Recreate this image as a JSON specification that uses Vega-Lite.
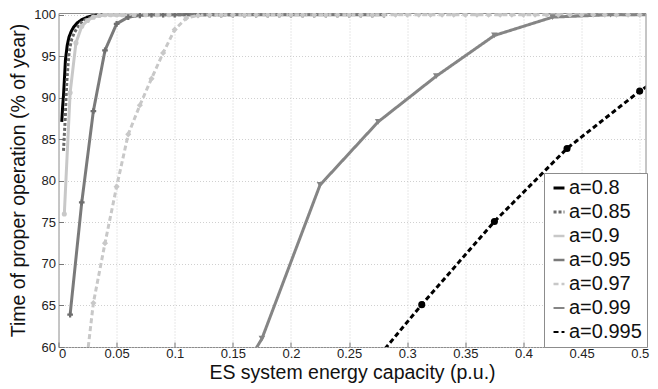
{
  "$schema": "https://vega.github.io/schema/vega-lite/v6.json",
  "width": 587,
  "height": 334,
  "autosize": {"type": "none"},
  "padding": {"left": 58.5, "top": 13, "right": 12.5, "bottom": 42},
  "background": "white",
  "config": {
    "font": "Liberation Sans",
    "view": {"stroke": "#8c8c8c", "strokeWidth": 1},
    "axis": {
      "labelFont": "Liberation Sans",
      "labelFontSize": 13,
      "labelColor": "#222222",
      "titleFont": "Liberation Sans",
      "titleFontSize": 19.5,
      "titleFontWeight": "normal",
      "titleColor": "#111111",
      "domain": false,
      "tickColor": "#777777",
      "tickSize": -5,
      "grid": true,
      "gridColor": "#c4c4c4",
      "gridDash": [1, 2],
      "gridWidth": 0.8
    },
    "legend": {
      "orient": "none",
      "legendX": 485.5,
      "legendY": 160,
      "padding": 5,
      "strokeColor": "#8c8c8c",
      "fillColor": "white",
      "labelFont": "Liberation Sans",
      "labelFontSize": 20,
      "labelColor": "#111111",
      "rowPadding": 4,
      "symbolType": "stroke",
      "symbolSize": 120,
      "symbolStrokeWidth": 2.2,
      "labelOffset": 0,
      "title": null
    }
  },
  "data": {
    "values": [
      {"s": "a=0.8", "x": 0.0028, "y": 87.1},
      {"s": "a=0.8", "x": 0.0035, "y": 88.8},
      {"s": "a=0.8", "x": 0.0043, "y": 90.3},
      {"s": "a=0.8", "x": 0.005, "y": 92.0},
      {"s": "a=0.8", "x": 0.006, "y": 94.6},
      {"s": "a=0.8", "x": 0.0075, "y": 96.3},
      {"s": "a=0.8", "x": 0.009, "y": 97.3},
      {"s": "a=0.8", "x": 0.011, "y": 98.0},
      {"s": "a=0.8", "x": 0.013, "y": 98.5},
      {"s": "a=0.8", "x": 0.016, "y": 99.0},
      {"s": "a=0.8", "x": 0.02, "y": 99.4},
      {"s": "a=0.8", "x": 0.025, "y": 99.7},
      {"s": "a=0.8", "x": 0.03, "y": 99.9},
      {"s": "a=0.8", "x": 0.038, "y": 100},

      {"s": "a=0.85", "x": 0.0043, "y": 83.6},
      {"s": "a=0.85", "x": 0.005, "y": 85.5},
      {"s": "a=0.85", "x": 0.0058, "y": 87.5},
      {"s": "a=0.85", "x": 0.0065, "y": 90.0},
      {"s": "a=0.85", "x": 0.0072, "y": 92.0},
      {"s": "a=0.85", "x": 0.0082, "y": 94.0},
      {"s": "a=0.85", "x": 0.0092, "y": 95.5},
      {"s": "a=0.85", "x": 0.0105, "y": 96.5},
      {"s": "a=0.85", "x": 0.0115, "y": 97.1},
      {"s": "a=0.85", "x": 0.0135, "y": 97.8},
      {"s": "a=0.85", "x": 0.016, "y": 98.4},
      {"s": "a=0.85", "x": 0.019, "y": 99.0},
      {"s": "a=0.85", "x": 0.023, "y": 99.4},
      {"s": "a=0.85", "x": 0.03, "y": 99.8},
      {"s": "a=0.85", "x": 0.04, "y": 100},
      {"s": "a=0.85", "x": 0.15, "y": 100},

      {"s": "a=0.9", "x": 0.005, "y": 76.0},
      {"s": "a=0.9", "x": 0.01, "y": 90.6},
      {"s": "a=0.9", "x": 0.015, "y": 96.6},
      {"s": "a=0.9", "x": 0.02, "y": 98.6},
      {"s": "a=0.9", "x": 0.025, "y": 99.3},
      {"s": "a=0.9", "x": 0.03, "y": 99.7},
      {"s": "a=0.9", "x": 0.035, "y": 99.9},
      {"s": "a=0.9", "x": 0.04, "y": 100},
      {"s": "a=0.9", "x": 0.045, "y": 100},
      {"s": "a=0.9", "x": 0.05, "y": 100},
      {"s": "a=0.9", "x": 0.055, "y": 100},
      {"s": "a=0.9", "x": 0.06, "y": 100},
      {"s": "a=0.9", "x": 0.065, "y": 100},
      {"s": "a=0.9", "x": 0.07, "y": 100},
      {"s": "a=0.9", "x": 0.075, "y": 100},
      {"s": "a=0.9", "x": 0.08, "y": 100},
      {"s": "a=0.9", "x": 0.085, "y": 100},
      {"s": "a=0.9", "x": 0.09, "y": 100},
      {"s": "a=0.9", "x": 0.095, "y": 100},
      {"s": "a=0.9", "x": 0.1, "y": 100},

      {"s": "a=0.95", "x": 0.01, "y": 63.9},
      {"s": "a=0.95", "x": 0.02, "y": 77.4},
      {"s": "a=0.95", "x": 0.03, "y": 88.4},
      {"s": "a=0.95", "x": 0.04, "y": 95.7},
      {"s": "a=0.95", "x": 0.05, "y": 98.9},
      {"s": "a=0.95", "x": 0.06, "y": 99.7},
      {"s": "a=0.95", "x": 0.07, "y": 99.9},
      {"s": "a=0.95", "x": 0.08, "y": 100},
      {"s": "a=0.95", "x": 0.09, "y": 100},
      {"s": "a=0.95", "x": 0.1, "y": 100},
      {"s": "a=0.95", "x": 0.11, "y": 100},
      {"s": "a=0.95", "x": 0.12, "y": 100},
      {"s": "a=0.95", "x": 0.13, "y": 100},
      {"s": "a=0.95", "x": 0.14, "y": 100},
      {"s": "a=0.95", "x": 0.15, "y": 100},
      {"s": "a=0.95", "x": 0.16, "y": 100},
      {"s": "a=0.95", "x": 0.17, "y": 100},
      {"s": "a=0.95", "x": 0.18, "y": 100},
      {"s": "a=0.95", "x": 0.19, "y": 100},
      {"s": "a=0.95", "x": 0.2, "y": 100},
      {"s": "a=0.95", "x": 0.21, "y": 100},
      {"s": "a=0.95", "x": 0.22, "y": 100},
      {"s": "a=0.95", "x": 0.23, "y": 100},
      {"s": "a=0.95", "x": 0.24, "y": 100},
      {"s": "a=0.95", "x": 0.25, "y": 100},
      {"s": "a=0.95", "x": 0.26, "y": 100},
      {"s": "a=0.95", "x": 0.27, "y": 100},
      {"s": "a=0.95", "x": 0.28, "y": 100},

      {"s": "a=0.97", "x": 0.02, "y": 53.3},
      {"s": "a=0.97", "x": 0.03, "y": 65.3},
      {"s": "a=0.97", "x": 0.04, "y": 72.5},
      {"s": "a=0.97", "x": 0.05, "y": 79.3},
      {"s": "a=0.97", "x": 0.06, "y": 85.6},
      {"s": "a=0.97", "x": 0.07, "y": 89.1},
      {"s": "a=0.97", "x": 0.08, "y": 92.3},
      {"s": "a=0.97", "x": 0.09, "y": 95.4},
      {"s": "a=0.97", "x": 0.1, "y": 98.2},
      {"s": "a=0.97", "x": 0.11, "y": 99.6},
      {"s": "a=0.97", "x": 0.12, "y": 99.9},
      {"s": "a=0.97", "x": 0.13, "y": 100},
      {"s": "a=0.97", "x": 0.14, "y": 100},
      {"s": "a=0.97", "x": 0.15, "y": 100},
      {"s": "a=0.97", "x": 0.16, "y": 100},
      {"s": "a=0.97", "x": 0.17, "y": 100},
      {"s": "a=0.97", "x": 0.18, "y": 100},
      {"s": "a=0.97", "x": 0.19, "y": 100},
      {"s": "a=0.97", "x": 0.2, "y": 100},
      {"s": "a=0.97", "x": 0.21, "y": 100},
      {"s": "a=0.97", "x": 0.22, "y": 100},
      {"s": "a=0.97", "x": 0.23, "y": 100},
      {"s": "a=0.97", "x": 0.24, "y": 100},
      {"s": "a=0.97", "x": 0.25, "y": 100},
      {"s": "a=0.97", "x": 0.26, "y": 100},
      {"s": "a=0.97", "x": 0.27, "y": 100},
      {"s": "a=0.97", "x": 0.28, "y": 100},
      {"s": "a=0.97", "x": 0.29, "y": 100},
      {"s": "a=0.97", "x": 0.3, "y": 100},
      {"s": "a=0.97", "x": 0.31, "y": 100},
      {"s": "a=0.97", "x": 0.32, "y": 100},
      {"s": "a=0.97", "x": 0.33, "y": 100},
      {"s": "a=0.97", "x": 0.34, "y": 100},
      {"s": "a=0.97", "x": 0.35, "y": 100},
      {"s": "a=0.97", "x": 0.36, "y": 100},
      {"s": "a=0.97", "x": 0.37, "y": 100},
      {"s": "a=0.97", "x": 0.38, "y": 100},
      {"s": "a=0.97", "x": 0.39, "y": 100},
      {"s": "a=0.97", "x": 0.4, "y": 100},
      {"s": "a=0.97", "x": 0.41, "y": 100},
      {"s": "a=0.97", "x": 0.42, "y": 100},
      {"s": "a=0.97", "x": 0.43, "y": 100},
      {"s": "a=0.97", "x": 0.44, "y": 100},
      {"s": "a=0.97", "x": 0.45, "y": 100},
      {"s": "a=0.97", "x": 0.46, "y": 100},
      {"s": "a=0.97", "x": 0.47, "y": 100},
      {"s": "a=0.97", "x": 0.48, "y": 100},
      {"s": "a=0.97", "x": 0.49, "y": 100},
      {"s": "a=0.97", "x": 0.5, "y": 100},

      {"s": "a=0.99", "x": 0.125, "y": 49.4},
      {"s": "a=0.99", "x": 0.175, "y": 61.0},
      {"s": "a=0.99", "x": 0.225, "y": 79.5},
      {"s": "a=0.99", "x": 0.275, "y": 87.1},
      {"s": "a=0.99", "x": 0.325, "y": 92.6},
      {"s": "a=0.99", "x": 0.375, "y": 97.5},
      {"s": "a=0.99", "x": 0.425, "y": 99.7},
      {"s": "a=0.99", "x": 0.475, "y": 100},
      {"s": "a=0.99", "x": 0.525, "y": 100},

      {"s": "a=0.995", "x": 0.25, "y": 54.6},
      {"s": "a=0.995", "x": 0.3125, "y": 65.1},
      {"s": "a=0.995", "x": 0.375, "y": 75.1},
      {"s": "a=0.995", "x": 0.4375, "y": 83.9},
      {"s": "a=0.995", "x": 0.5, "y": 90.8},
      {"s": "a=0.995", "x": 0.5625, "y": 96.5}
    ]
  },
  "layer": [
    {
      "mark": {"type": "line", "clip": true, "strokeCap": "butt", "strokeWidth": 3},
      "encoding": {
        "x": {
          "field": "x",
          "type": "quantitative",
          "scale": {"domain": [0, 0.505], "nice": false, "zero": false},
          "axis": {
            "values": [0, 0.05, 0.1, 0.15, 0.2, 0.25, 0.3, 0.35, 0.4, 0.45, 0.5],
            "format": "~g",
            "labelPadding": 5,
            "title": "ES system energy capacity (p.u.)",
            "titlePadding": 3
          }
        },
        "y": {
          "field": "y",
          "type": "quantitative",
          "scale": {"domain": [60, 100.2], "nice": false, "zero": false},
          "axis": {
            "values": [60, 65, 70, 75, 80, 85, 90, 95, 100],
            "labelPadding": 8,
            "title": "Time of proper operation (% of year)",
            "titlePadding": 5
          }
        },
        "color": {
          "field": "s",
          "type": "nominal",
          "scale": {
            "domain": ["a=0.8", "a=0.85", "a=0.9", "a=0.95", "a=0.97", "a=0.99", "a=0.995"],
            "range": ["#000000", "#6a6a6a", "#c8c8c8", "#7a7a7a", "#c8c8c8", "#858585", "#000000"]
          },
          "legend": {}
        },
        "strokeDash": {
          "field": "s",
          "type": "nominal",
          "scale": {
            "domain": ["a=0.8", "a=0.85", "a=0.9", "a=0.95", "a=0.97", "a=0.99", "a=0.995"],
            "range": [[1, 0], [3, 2], [1, 0], [1, 0], [5, 3], [1, 0], [5, 3]]
          }
        },
        "strokeWidth": {
          "field": "s",
          "type": "ordinal",
          "scale": {
            "domain": ["a=0.8", "a=0.85", "a=0.9", "a=0.95", "a=0.97", "a=0.99", "a=0.995"],
            "range": [3.2, 1.8, 3.2, 3.2, 3.2, 3.2, 3]
          },
          "legend": null
        }
      }
    },
    {
      "transform": [{"filter": "datum.s != 'a=0.8' && datum.s != 'a=0.85'"}],
      "mark": {"type": "point", "filled": true, "clip": true, "opacity": 1},
      "encoding": {
        "x": {"field": "x", "type": "quantitative"},
        "y": {"field": "y", "type": "quantitative"},
        "fill": {
          "field": "s",
          "type": "nominal",
          "scale": {
            "domain": ["a=0.9", "a=0.95", "a=0.97", "a=0.99", "a=0.995"],
            "range": ["#c8c8c8", "#6e6e6e", "#c8c8c8", "#858585", "#000000"]
          },
          "legend": null
        },
        "shape": {
          "field": "s",
          "type": "nominal",
          "scale": {
            "domain": ["a=0.9", "a=0.95", "a=0.97", "a=0.99", "a=0.995"],
            "range": ["circle", "cross", "diamond", "triangle-down", "circle"]
          },
          "legend": null
        },
        "size": {
          "field": "s",
          "type": "ordinal",
          "scale": {
            "domain": ["a=0.9", "a=0.95", "a=0.97", "a=0.99", "a=0.995"],
            "range": [26, 50, 75, 85, 75]
          },
          "legend": null
        }
      }
    }
  ]
}
